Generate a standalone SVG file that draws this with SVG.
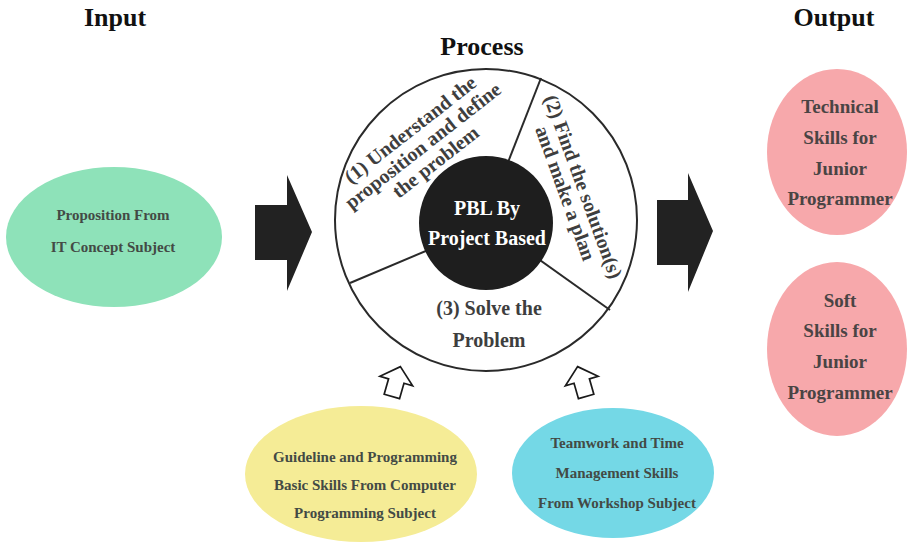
<svg xmlns="http://www.w3.org/2000/svg" width="910" height="543" viewBox="0 0 910 543">
  <style>
    .title { font-family: "Liberation Serif", "DejaVu Serif", serif; font-weight: bold; font-size: 26px; fill: #111; text-anchor: middle; }
    .seg { font-family: "Liberation Serif", "DejaVu Serif", serif; font-weight: bold; font-size: 20px; fill: #3e3e3e; text-anchor: middle; }
    .core { font-family: "Liberation Serif", "DejaVu Serif", serif; font-weight: bold; font-size: 20px; fill: #ffffff; text-anchor: middle; }
    .node { font-family: "Liberation Serif", "DejaVu Serif", serif; font-weight: bold; font-size: 15px; fill: #434a45; text-anchor: middle; }
    .out { font-family: "Liberation Serif", "DejaVu Serif", serif; font-weight: bold; font-size: 19px; fill: #4a4444; text-anchor: middle; }
    .rim { fill: #ffffff; stroke: #2a2a2a; stroke-width: 2; }
    .spoke { stroke: #2a2a2a; stroke-width: 2; fill: none; }
    .block { fill: #222222; }
    .hollow { fill: #ffffff; stroke: #1a1a1a; stroke-width: 1.7; stroke-linejoin: miter; }
  </style>
  <defs>
    <!-- outlined up-pointing arrow, drawn around its own centre -->
    <polygon id="upArrow" points="0,-16 17,-1 8,-1 8,15 -8,15 -8,-1 -17,-1"/>
  </defs>

  <rect width="910" height="543" fill="#ffffff"/>

  <!-- column headings -->
  <text class="title" x="115" y="26">Input</text>
  <text class="title" x="482" y="55">Process</text>
  <text class="title" x="834" y="26">Output</text>

  <!-- process wheel -->
  <g id="process">
    <circle class="rim" cx="486" cy="220" r="151"/>
    <line class="spoke" x1="505" y1="170" x2="541" y2="78"/>
    <line class="spoke" x1="440" y1="245" x2="350" y2="283"/>
    <line class="spoke" x1="530" y1="253" x2="610" y2="310"/>
    <g id="step1">
      <g transform="translate(427,151) rotate(-38)">
        <text class="seg" x="0" y="-20.5">(1) Understand the</text>
        <text class="seg" x="0" y="0">proposition and define</text>
        <text class="seg" x="0" y="20.5">the problem</text>
      </g>
    </g>
    <g id="step2">
      <g transform="translate(577,189) rotate(70)">
        <text class="seg" x="0" y="0">(2) Find the solution(s)</text>
        <text class="seg" x="0" y="19">and make a plan</text>
      </g>
    </g>
    <g id="step3">
      <text class="seg" x="489" y="315">(3) Solve the</text>
      <text class="seg" x="489" y="347">Problem</text>
    </g>
    <g id="core">
      <circle cx="486" cy="223" r="67" fill="#1e1e1e"/>
      <text class="core" x="487" y="215">PBL By</text>
      <text class="core" x="487" y="245">Project Based</text>
    </g>
  </g>

  <!-- input -->
  <g id="input-proposition">
    <ellipse cx="114" cy="237" rx="108" ry="70" fill="#8ee2b9"/>
    <text class="node" x="113" y="220">Proposition From</text>
    <text class="node" x="113" y="252">IT Concept Subject</text>
  </g>

  <!-- supporting inputs -->
  <g id="support-programming">
    <ellipse cx="361" cy="474" rx="116" ry="68" fill="#f5ec96"/>
    <text class="node" x="365" y="462">Guideline and Programming</text>
    <text class="node" x="365" y="490">Basic Skills From Computer</text>
    <text class="node" x="365" y="518">Programming Subject</text>
  </g>
  <g id="support-workshop">
    <ellipse cx="613" cy="473" rx="101" ry="65" fill="#74d8e6"/>
    <text class="node" x="617" y="448">Teamwork and Time</text>
    <text class="node" x="617" y="478">Management Skills</text>
    <text class="node" x="617" y="508">From Workshop Subject</text>
  </g>

  <!-- outputs -->
  <g id="output-technical">
    <ellipse cx="837" cy="152" rx="70" ry="83" fill="#f7a8ab"/>
    <text class="out" x="840" y="113">Technical</text>
    <text class="out" x="840" y="144">Skills for</text>
    <text class="out" x="840" y="175">Junior</text>
    <text class="out" x="840" y="205">Programmer</text>
  </g>
  <g id="output-soft">
    <ellipse cx="837" cy="349" rx="70" ry="87" fill="#f7a8ab"/>
    <text class="out" x="840" y="307">Soft</text>
    <text class="out" x="840" y="337">Skills for</text>
    <text class="out" x="840" y="368">Junior</text>
    <text class="out" x="840" y="399">Programmer</text>
  </g>

  <!-- flow arrows -->
  <g id="connectors">
    <polygon class="block" points="255,205 287,205 287,175 312,232 287,291 287,260 255,260"/>
    <polygon class="block" points="657,200 688,200 688,173 713,231 688,292 688,265 657,265"/>
    <use href="#upArrow" class="hollow" transform="translate(396,382) rotate(16)"/>
    <use href="#upArrow" class="hollow" transform="translate(582,382) rotate(-16)"/>
  </g>
</svg>
